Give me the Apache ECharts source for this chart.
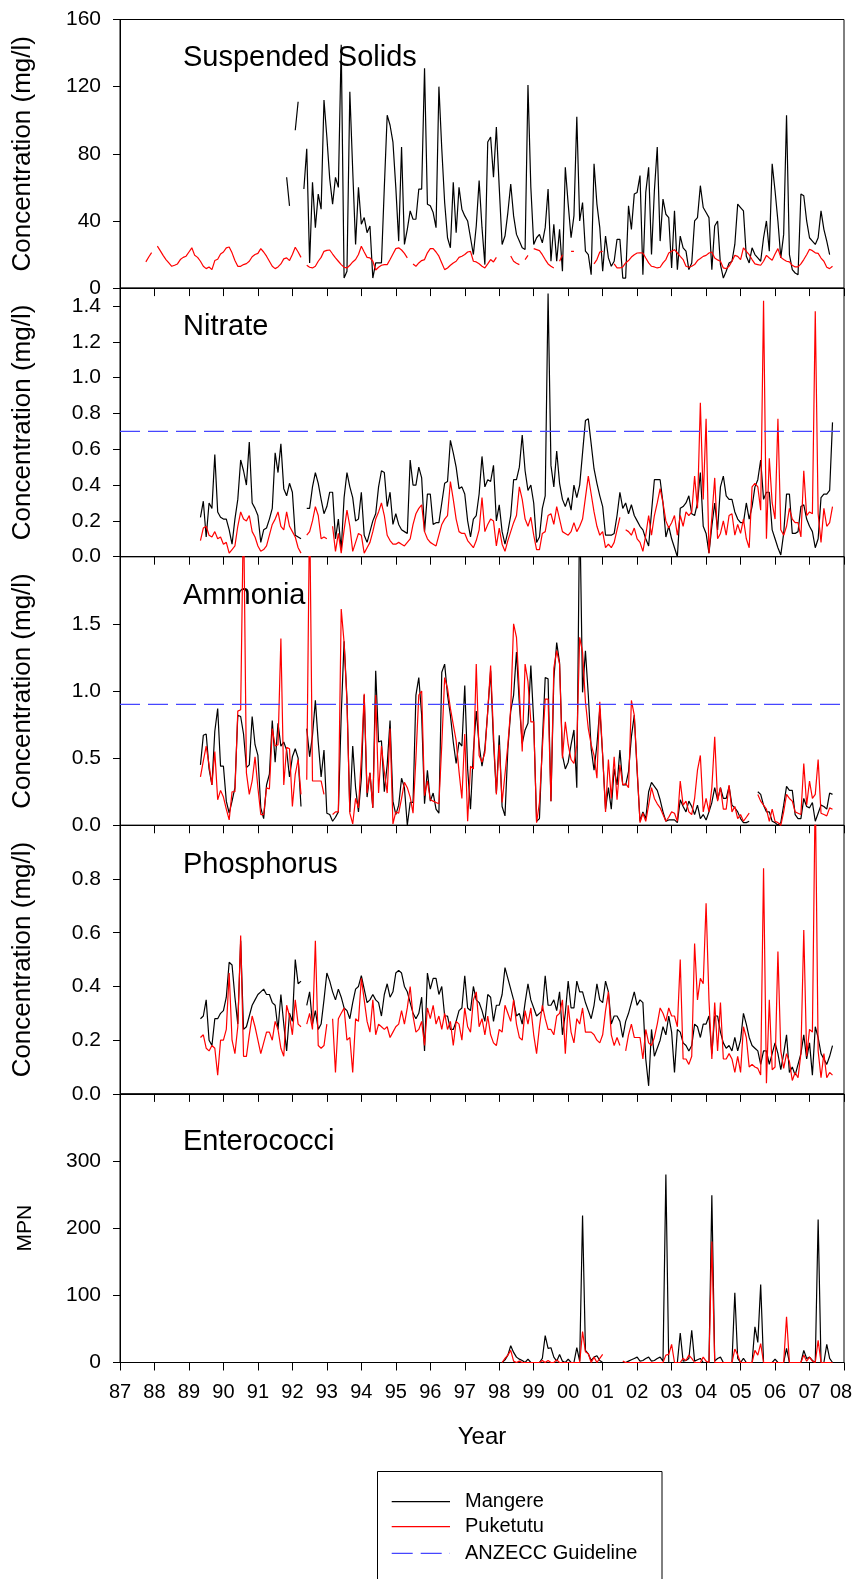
<!DOCTYPE html>
<html>
<head>
<meta charset="utf-8">
<title>Water quality: Mangere and Puketutu</title>
<script src="https://cdn.jsdelivr.net/npm/echarts@6/dist/echarts.min.js"></script>
<style>
  html, body { margin: 0; padding: 0; background: #fff; overflow: hidden; }
  #chart { width: 853px; height: 1579px; }
</style>
</head>
<body>
<div id="chart"></div>
<script>
// Missing samples are written as _ so the line breaks there.
const _ = null;

// Monthly samples; each row is one calendar year (Jan..Dec).
// Suspended solids (mg/l)
const ssPuketutuFrom = 1987;
const ssPuketutu = [
  _, _, _, _, _, _, _, _, _, 15.6, 18.5, 21.1,
  _, 25, 22.3, 19.5, 17, 15, 13, 13.6, 14.4, 17, 18.3, 19,
  21.5, 24, 19.5, 18.3, 16, 13, 11.6, 12.6, 11, 16.4, 17.2, 20.3,
  21.5, 24, 24.5, 21, 16.4, 13, 13, 14, 14.6, 16, 18.7, 20,
  20.7, 23.5, 21.5, 19, 16, 13, 11.6, 12.6, 14.4, 17.4, 18, 16.4,
  20, 24.3, 21.5, 18.3, _, 13.6, 12.4, 12, 13, 16, 18.3, 21.9,
  22.5, 22.7, 20.3, 18, 16, 14, 12.4, 12, 13.6, 15.6, 17, 20,
  24.9, 21.5, 18.3, 18, 16, 10.8, 12.4, 13.6, 14, 14, 17, 20.3,
  23.5, 24, 22.7, 20.7, 18, _, 14.4, 13, 15, 16.4, 17, 21,
  23.5, 23.5, 21.5, 19, 15, 11, 12, 13.6, 15, 16, 18.3, 19,
  20, 21.5, 21.9, 16, 15.6, 14.5, 13, 12, 14.4, 17, 15.6, 18.3,
  _, _, _, _, 19.1, 16, 14.8, 14, _, 17, 19.5, _,
  23.5, 22.9, 22.3, 19.9, 17, 14.4, 13, 12, _, 16, 19.9, _,
  _, 21.9, 21.9, _, _, _, _, _, _, 14.4, 17, 21.5,
  21.9, _, _, _, 14.4, 12, 12, 12.6, 15, 16.4, 18.5, 19.9,
  20.9, 21, 20.9, 17.9, 15, 13, 12.6, 12, 12.4, 15, 17, 20.9,
  21.9, 22.9, 20.9, 18.9, 17, 13, 12.4, 13, 14, 16.4, 17.6, 18.9,
  19.5, 20.9, 21.5, 17.9, 16.8, 16, 12, 11.6, 13, 16, 19.5, 18.9,
  17, 23.9, 21.9, 19.9, 17, 14.4, 14, 13.6, 16, 19.5, 17.9, 16.6,
  20.3, 23.5, 18.3, 17, 16, 15.6, 13.6, 12.6, 12.6, 14.4, 17, 19.9,
  23.1, 22.3, 21, 20.7, 17.9, 16, 12.4, 11.6, 13
];
const ssMangereFrom = 1991;
const ssMangere = [
  _, _, _, _, _, _, _, _, _, _, 66, 49,
  _, 94, 111, _, 59, 83, 15, 63, 36, 56, 47, 112,
  90, 65, 50, 66, 60, 145, 6, 10, 117, 70, 26, 60,
  38, 42, 33, 37, 6, 15, 15, 15, 60, 103, 97, 87,
  60, 28, 84, 26, 35, 46, 41, 41, 59, 59, 131, 50,
  49, 45, 36, 120, 83, 51, 30, 24, 63, 33, 60, 47,
  43, 40, 30, 20, 37, 64, 36, 14, 87, 90, 66, 96,
  60, 26, 31, 45, 62, 43, 32, 28, 24, 23, 121, 60,
  26, 30, 32, 27, 36, 59, 16, 38, 16, 35, 10, 72,
  50, 30, 43, 102, 40, 51, 22, 20, 8, 74, 50, 36,
  10, 31, 18, 13, 16, 29, 29, 6, 6, 49, 35, 56,
  57, 67, 8, 57, 72, 20, 58, 84, 28, 53, 44, 42,
  12, 46, 11, 31, 24, 22, 11, 15, 40, 42, 61, 48,
  45, 42, 11, 37, 40, 14, 6, 10, 15, 16, 26, 50,
  48, 46, 19, 15, 24, 20, 18, 16, 30, 40, 22, 74,
  58, 40, 18, 32, 103, 20, 11, 9, 8, 56, 55, 40,
  30, 28, 26, 30, 46, 35, 28, 20
];

// Nitrate (mg/l)
const nitrateFrom = 1989;
const nitrateMangere = [
  _, _, _, _, 0.22, 0.31, 0.11, 0.30, 0.27, 0.57, 0.25, 0.22,
  0.21, 0.21, 0.15, 0.07, 0.21, 0.32, 0.54, 0.48, 0.40, 0.64, 0.30, 0.27,
  0.23, 0.08, 0.15, 0.16, 0.21, 0.27, 0.58, 0.47, 0.63, 0.38, 0.34, 0.41,
  0.36, 0.12, 0.11, 0.10, _, 0.27, 0.27, 0.39, 0.47, 0.41, 0.32, 0.24,
  0.28, 0.36, 0.36, 0.10, 0.21, 0.04, 0.33, 0.47, 0.39, 0.33, 0.20, 0.21,
  0.36, 0.12, 0.08, 0.14, 0.20, 0.24, 0.39, 0.48, 0.47, 0.28, 0.36, 0.18,
  0.24, 0.18, 0.15, 0.14, 0.13, 0.54, 0.40, 0.40, 0.50, 0.44, 0.14, 0.35,
  0.35, 0.18, 0.19, 0.19, 0.30, 0.41, 0.42, 0.65, 0.58, 0.50, 0.38, 0.39,
  0.35, 0.20, 0.11, 0.21, 0.23, 0.35, 0.56, 0.39, 0.43, 0.42, 0.51, 0.20,
  0.29, 0.14, 0.07, 0.14, 0.23, 0.43, 0.43, 0.50, 0.68, 0.48, 0.37, 0.40,
  0.30, 0.08, 0.11, 0.27, 0.34, 1.47, 0.51, 0.39, 0.59, 0.41, 0.32, 0.28,
  0.33, 0.26, 0.40, 0.33, 0.40, 0.58, 0.76, 0.77, 0.63, 0.49, 0.41, 0.34,
  0.28, 0.12, 0.12, 0.12, 0.13, 0.23, 0.36, 0.27, 0.30, 0.24, 0.29, 0.23,
  0.20, 0.17, 0.15, 0.10, 0.06, 0.25, 0.43, 0.43, 0.43, 0.30, 0.11, 0.17,
  0.10, 0.05, 0.00, 0.27, 0.28, 0.30, 0.34, 0.24, 0.23, 0.30, 0.47, 0.17,
  0.13, 0.02, 0.17, 0.30, 0.15, 0.39, 0.45, 0.34, 0.32, 0.32, 0.25, 0.21,
  0.19, 0.19, 0.30, 0.21, 0.28, 0.39, 0.43, 0.54, 0.32, 0.36, 0.36, 0.15,
  0.10, 0.05, 0.01, 0.13, 0.35, 0.35, 0.13, 0.13, 0.14, 0.28, 0.29, 0.21,
  0.17, 0.14, 0.05, 0.10, 0.33, 0.35, 0.35, 0.37, 0.75
];
const nitratePuketutu = [
  _, _, _, _, 0.09, 0.16, 0.17, 0.12, 0.11, 0.14, 0.10, 0.11,
  0.07, 0.08, 0.02, 0.04, 0.06, 0.17, 0.25, 0.21, 0.20, 0.23, 0.14, 0.11,
  0.06, 0.03, 0.04, 0.06, 0.12, 0.18, 0.21, 0.25, 0.17, 0.15, 0.25, 0.17,
  0.14, 0.11, 0.05, 0.02, _, 0.12, 0.14, 0.20, 0.28, 0.23, 0.10, 0.11,
  0.10, _, 0.17, 0.03, 0.13, 0.02, 0.15, 0.26, 0.17, 0.03, 0.08, 0.13,
  0.12, 0.02, 0.05, 0.08, 0.14, 0.21, 0.25, 0.30, 0.23, 0.12, 0.09, 0.07,
  0.07, 0.08, 0.07, 0.06, 0.08, 0.10, 0.18, 0.24, 0.27, 0.29, 0.14, 0.10,
  0.08, 0.07, 0.06, 0.12, 0.18, 0.21, 0.23, 0.42, 0.32, 0.21, 0.14, 0.13,
  0.13, 0.09, 0.07, 0.05, 0.09, 0.15, 0.33, 0.14, 0.18, 0.21, 0.20, 0.06,
  0.16, 0.07, 0.03, 0.09, 0.14, 0.19, 0.23, 0.39, 0.32, 0.21, 0.17, 0.22,
  0.12, 0.04, 0.04, 0.13, 0.14, 0.23, 0.24, 0.18, 0.28, 0.21, 0.14, 0.13,
  0.12, 0.14, 0.19, 0.14, 0.17, 0.21, 0.33, 0.45, 0.35, 0.25, 0.17, 0.12,
  0.14, 0.05, 0.07, 0.05, 0.08, 0.15, 0.22, _, 0.15, 0.14, 0.12, 0.16,
  0.10, 0.08, 0.03, 0.12, 0.23, 0.12, 0.23, 0.30, 0.38, 0.30, 0.20, 0.16,
  0.19, 0.23, 0.12, 0.23, 0.17, 0.25, 0.23, 0.25, 0.45, 0.27, 0.86, 0.32,
  0.77, 0.02, 0.22, 0.44, 0.10, 0.13, 0.20, 0.12, 0.23, 0.24, 0.12, 0.18,
  0.13, 0.21, 0.10, 0.05, 0.39, 0.41, 0.39, 0.26, 1.43, 0.10, 0.55, 0.30,
  0.21, 0.77, 0.15, 0.12, 0.17, 0.27, 0.21, 0.19, 0.19, 0.11, 0.48, 0.23,
  0.25, 0.24, 1.37, 0.24, 0.08, 0.27, 0.17, 0.19, 0.28
];

// Ammonia (mg/l)
const ammoniaFrom = 1989;
const ammoniaMangere = [
  _, _, _, _, 0.45, 0.67, 0.68, 0.42, 0.30, 0.70, 0.87, 0.44,
  0.44, 0.18, 0.09, 0.18, 0.28, 0.82, 0.81, 0.68, 0.43, 0.45, 0.81, 0.60,
  0.52, 0.13, 0.05, 0.30, 0.38, 0.78, 0.47, 0.76, 0.59, 0.62, 0.56, 0.36,
  0.51, 0.57, 0.50, 0.14, _, 0.72, 0.51, 0.67, 0.93, 0.62, 0.36, 0.56,
  0.09, 0.08, 0.03, 0.06, 0.10, 0.82, 1.37, 0.94, 0.10, 0.59, 0.28, 0.10,
  0.35, 0.97, 0.21, 0.39, 0.13, 1.15, 0.62, 0.63, 0.25, 0.45, 0.78, 0.18,
  0.08, 0.15, 0.35, 0.28, 0.00, 0.17, 0.17, 0.97, 1.10, 0.82, 0.16, 0.41,
  0.18, 0.24, 0.12, 0.09, 1.14, 1.20, 0.97, 0.82, 0.62, 0.46, 0.62, 0.59,
  1.04, 0.42, 0.12, 0.55, 0.85, 0.60, 0.44, 0.57, 0.85, 1.15, 0.62, 0.24,
  0.67, 0.14, 0.07, 0.57, 0.85, 0.97, 1.29, 0.90, 0.61, 0.71, 0.76, 1.19,
  0.77, 0.03, 0.05, 0.62, 1.10, 1.09, 0.18, 1.09, 1.36, 1.21, 0.52, 0.42,
  0.47, 0.60, 0.71, 0.28, 2.40, 0.99, 1.30, 0.97, 0.57, 0.41, 0.60, 0.87,
  0.52, 0.12, 0.28, 0.12, 0.42, 0.30, 0.56, 0.30, 0.30, 0.40, 0.66, 0.82,
  0.40, 0.03, 0.10, 0.05, 0.25, 0.32, 0.29, 0.26, 0.19, 0.10, 0.03, 0.04,
  0.04, 0.04, 0.02, 0.19, 0.14, 0.10, 0.18, 0.14, 0.08, 0.15, 0.05, 0.08,
  0.04, 0.10, 0.17, 0.28, 0.19, 0.28, 0.20, 0.20, 0.29, 0.15, 0.13, 0.10,
  0.05, 0.02, 0.02, 0.03, _, _, 0.25, 0.23, 0.15, 0.10, 0.10, 0.03,
  0.02, 0.00, 0.02, 0.15, 0.29, 0.26, 0.26, 0.08, 0.05, 0.05, 0.20, 0.14,
  0.13, 0.17, 0.03, 0.09, 0.15, 0.14, 0.12, 0.24, 0.23
];
const ammoniaPuketutu = [
  _, _, _, _, 0.36, 0.48, 0.59, 0.45, 0.30, 0.55, 0.19, 0.26,
  0.21, 0.12, 0.04, 0.25, 0.25, 0.85, 0.86, 2.40, 0.39, 0.23, 0.33, 0.51,
  0.28, 0.08, 0.08, 0.28, 0.27, 0.72, 0.59, 0.60, 1.39, 0.30, 0.58, 0.57,
  0.14, 0.38, 0.49, 0.23, _, 0.34, 2.40, 0.33, 0.33, 0.33, 0.33, 0.23,
  _, _, 0.08, 0.10, 0.10, 1.61, 1.36, 0.92, 0.09, 0.01, 0.20, 0.13,
  0.50, 0.98, 0.24, 0.39, 0.13, 0.97, 0.24, 0.59, 0.40, 0.24, 0.72, 0.01,
  0.10, 0.09, 0.20, 0.32, 0.28, 0.21, 0.09, 0.50, 0.97, 1.00, 0.22, 0.33,
  0.19, 0.18, 0.17, 0.16, 0.60, 1.10, 1.02, 0.87, 0.75, 0.63, 0.40, 0.20,
  0.68, 0.03, 0.44, 0.42, 1.20, 0.52, 0.47, 0.54, 0.85, 1.19, 0.68, 0.23,
  0.60, 0.17, 0.38, 0.60, 0.87, 1.50, 1.40, 0.99, 0.55, 1.20, 1.07, 0.77,
  0.77, 0.02, 0.17, 0.57, 0.94, 0.94, 0.18, 1.17, 1.30, 1.20, 0.50, 0.77,
  0.60, 0.49, 0.46, 0.60, 1.40, 1.29, 0.92, 0.72, 0.60, 0.52, 0.35, 0.92,
  0.52, 0.10, 0.49, 0.20, 0.51, 0.19, 0.45, 0.30, 0.31, 0.28, 0.93, 0.82,
  0.42, 0.02, 0.09, 0.03, 0.15, 0.28, 0.20, 0.16, 0.13, 0.08, 0.03, 0.06,
  0.10, 0.09, 0.03, 0.33, 0.15, 0.18, 0.10, 0.08, 0.20, 0.41, 0.52, 0.10,
  0.20, 0.10, 0.28, 0.66, 0.18, 0.28, 0.12, 0.12, 0.30, 0.10, 0.14, 0.05,
  0.08, 0.03, 0.06, 0.09, _, _, 0.23, 0.18, 0.15, 0.12, 0.03, 0.12,
  0.03, 0.02, 0.00, 0.10, 0.23, 0.20, 0.18, 0.10, 0.09, 0.08, 0.46, 0.15,
  0.33, 0.20, 0.23, 0.49, 0.09, 0.08, 0.07, 0.13, 0.12
];

// Total phosphorus (mg/l)
const phosphorusFrom = 1989;
const phosphorusMangere = [
  _, _, _, _, 0.28, 0.29, 0.35, 0.20, 0.18, 0.28, 0.28, 0.30,
  0.31, 0.36, 0.49, 0.48, 0.36, 0.26, 0.57, 0.24, 0.25, 0.29, 0.33, 0.35,
  0.37, 0.38, 0.39, 0.37, 0.37, 0.34, 0.33, 0.24, 0.37, 0.26, 0.16, 0.30,
  0.27, 0.50, 0.41, 0.42, _, 0.33, 0.38, 0.26, 0.31, 0.24, 0.26, 0.35,
  0.45, 0.42, 0.38, 0.35, 0.39, 0.36, 0.32, 0.31, 0.28, 0.34, 0.39, 0.40,
  0.44, 0.39, 0.34, 0.35, 0.37, 0.35, 0.34, 0.29, 0.37, 0.41, 0.36, 0.38,
  0.45, 0.46, 0.45, 0.40, 0.38, 0.34, 0.30, 0.28, 0.30, 0.36, 0.16, 0.45,
  0.39, 0.43, 0.43, 0.37, 0.40, 0.29, 0.29, 0.24, 0.24, 0.27, 0.31, 0.32,
  0.44, 0.32, 0.31, 0.40, 0.35, 0.34, 0.31, 0.27, 0.37, 0.36, 0.27, 0.33,
  0.33, 0.37, 0.47, 0.43, 0.39, 0.35, 0.29, 0.30, 0.26, 0.34, 0.41, 0.35,
  0.32, 0.29, 0.30, 0.31, 0.44, 0.33, 0.33, 0.35, 0.31, 0.38, 0.22, 0.30,
  0.42, 0.32, 0.32, 0.42, 0.38, 0.38, 0.34, 0.31, 0.28, 0.33, 0.41, 0.35,
  0.34, 0.42, 0.38, 0.26, 0.29, 0.29, 0.27, 0.21, 0.27, 0.30, 0.34, 0.38,
  0.33, 0.35, 0.34, 0.13, 0.03, 0.24, 0.14, 0.17, 0.20, 0.25, 0.22, 0.29,
  0.23, 0.08, 0.24, 0.23, 0.19, 0.18, 0.16, 0.18, 0.26, 0.25, 0.21, 0.26,
  0.26, 0.29, 0.15, 0.29, 0.29, 0.23, 0.19, 0.17, 0.18, 0.16, 0.21, 0.16,
  0.20, 0.30, 0.26, 0.21, 0.18, 0.17, 0.16, 0.11, 0.16, 0.16, 0.11, 0.15,
  0.19, 0.15, 0.09, 0.15, 0.22, 0.08, 0.10, 0.07, 0.11, 0.15, 0.22, 0.13,
  0.19, 0.07, 0.25, 0.21, 0.15, 0.13, 0.11, 0.14, 0.18
];
const phosphorusPuketutu = [
  _, _, _, _, 0.21, 0.22, 0.17, 0.16, 0.18, 0.17, 0.07, 0.20,
  0.20, 0.24, 0.45, 0.20, 0.15, 0.25, 0.59, 0.14, 0.14, 0.22, 0.29, 0.25,
  0.20, 0.15, 0.19, 0.23, 0.23, 0.20, 0.27, 0.24, 0.17, 0.14, 0.33, 0.29,
  0.22, 0.35, 0.26, 0.25, _, 0.26, 0.30, 0.24, 0.57, 0.18, 0.17, 0.18,
  0.26, _, 0.28, 0.08, 0.28, 0.30, 0.32, 0.20, 0.21, 0.08, 0.28, 0.27,
  0.43, 0.35, 0.27, 0.23, 0.35, 0.22, 0.26, 0.25, 0.24, 0.25, 0.21, 0.23,
  0.25, 0.26, 0.31, 0.26, 0.32, 0.40, 0.29, 0.23, 0.24, 0.27, 0.18, 0.32,
  0.28, 0.33, 0.26, 0.29, 0.24, 0.30, 0.24, 0.27, 0.18, 0.27, 0.26, 0.20,
  0.32, 0.25, 0.23, 0.35, 0.38, 0.25, 0.28, 0.22, 0.29, 0.22, 0.19, 0.18,
  0.24, 0.23, 0.33, 0.30, 0.27, 0.35, 0.26, 0.21, 0.20, 0.31, 0.26, 0.32,
  0.22, 0.15, 0.25, 0.33, 0.28, 0.24, 0.24, 0.22, 0.29, 0.30, 0.35, 0.15,
  0.33, 0.23, 0.19, 0.28, 0.26, 0.32, 0.23, 0.23, 0.23, 0.22, 0.20, 0.19,
  0.22, 0.31, 0.38, 0.22, 0.18, 0.21, 0.18, _, 0.16, 0.22, 0.26, 0.21,
  0.21, 0.21, 0.13, 0.24, 0.19, 0.18, 0.21, 0.26, 0.32, 0.30, 0.27, 0.32,
  0.29, 0.29, 0.25, 0.50, 0.13, 0.13, 0.11, 0.14, 0.56, 0.35, 0.43, 0.41,
  0.71, 0.35, 0.13, 0.34, 0.16, 0.34, 0.13, 0.13, 0.15, 0.13, 0.08, 0.14,
  0.08, 0.25, 0.21, 0.10, 0.11, 0.10, 0.095, 0.07, 0.84, 0.04, 0.35, 0.09,
  0.10, 0.53, 0.16, 0.095, 0.15, 0.12, 0.05, 0.08, 0.06, 0.15, 0.61, 0.14,
  0.24, 0.23, 1.15, 0.16, 0.06, 0.15, 0.06, 0.08, 0.07
];

// Enterococci (MPN)
const enteroFrom = 1998;
const enteroMangere = [
  _, 0, 4, 11, 25, 15, 8, 5, 3, 0, 5, 0,
  0, 0, 0, 6, 40, 21, 22, 8, 2, 12, 2, 0,
  5, 0, 0, 22, 2, 219, 18, 13, 3, 8, 10, 3,
  0, _, _, _, _, _, 0, 0, 0, 2, 4, 6,
  8, 2, 3, 6, 8, 2, 3, 6, 8, 2, 280, 0,
  0, 0, 0, 44, 2, 3, 6, 48, 2, 4, 6, 0,
  0, 0, 249, 2, 6, 8, 0, 0, 0, 0, 104, 6,
  0, 6, 0, 0, 0, 53, 30, 116, 0, 0, 0, 0,
  5, 0, 0, 0, 21, 0, 0, 0, 0, 0, 18, 6,
  8, 3, 0, 213, 0, 0, 27, 6, 0
];
const enteroPuketutu = [
  _, 0, 6, 11, 18, 2, 0, 2, 0, 0, 0, 0,
  0, 0, 0, 3, 0, 3, 0, 0, 4, 0, 0, 0,
  0, 0, 0, 0, 0, 46, 16, 13, 0, 8, 0, 6,
  12, _, _, _, _, _, _, 2, 0, 0, 0, 0,
  0, 0, 0, 0, 0, 0, 0, 0, 0, 0, 11, 12,
  27, 0, 0, 0, 6, 3, 11, 6, 0, 0, 0, 8,
  2, 0, 180, 0, 0, 0, 0, 0, 0, 0, 20, 11,
  0, 0, 0, 0, 0, 18, 11, 28, 0, 0, 0, 0,
  0, 0, 0, 0, 68, 0, 0, 0, 0, 0, 11, 2,
  8, 2, 0, 33, 0, 0, 0, 0, 0
];

// ANZECC guideline levels (mg/l)
const nitrateGuideline = 0.7;
const ammoniaGuideline = 0.9;

// Panel set-up
const panelTitles = ['Suspended Solids', 'Nitrate', 'Ammonia', 'Phosphorus', 'Enterococci'];
const axisNames = ['Concentration (mg/l)', 'Concentration (mg/l)', 'Concentration (mg/l)',
                   'Concentration (mg/l)', 'MPN'];
const yMax = [160, 1.5, 2, 1, 400];
const yStep = [40, 0.2, 0.5, 0.2, 100];
const yDecimals = [0, 1, 1, 1, 0];
const xFirstYear = 1987, xLastYear = 2008;
const legendNames = ['Mangere', 'Puketutu', 'ANZECC Guideline'];

// Turn a monthly value list into [decimal year, value] pairs.
function monthly(fromYear, values) {
  return values.map((v, i) => [fromYear + i / 12, v]);
}

const FONT = "'Liberation Sans', Arial, Helvetica, sans-serif";
const BLACK = '#000000', RED = '#ff0000', BLUE = '#4646ff';
const GRID_LEFT = 120, GRID_RIGHT = 9, GRID_TOP = 19.5, GRID_H = 268.6;
const TITLE_Y = [58.3, 326.8, 596, 864.8, 1142];

const panelData = [
  [monthly(ssMangereFrom, ssMangere), monthly(ssPuketutuFrom, ssPuketutu), null],
  [monthly(nitrateFrom, nitrateMangere), monthly(nitrateFrom, nitratePuketutu), nitrateGuideline],
  [monthly(ammoniaFrom, ammoniaMangere), monthly(ammoniaFrom, ammoniaPuketutu), ammoniaGuideline],
  [monthly(phosphorusFrom, phosphorusMangere), monthly(phosphorusFrom, phosphorusPuketutu), null],
  [monthly(enteroFrom, enteroMangere), monthly(enteroFrom, enteroPuketutu), null]
];

// Two-digit year labels; the last one is nudged left so it stays on the canvas.
function yearLabel(v) {
  const s = String(Math.round(v) % 100).padStart(2, '0');
  return Math.round(v) >= xLastYear ? '{edge|' + s + '}' : s;
}

const grids = [], xAxes = [], yAxes = [], series = [], graphics = [];

panelTitles.forEach((title, i) => {
  const last = i === panelTitles.length - 1;
  grids.push({
    left: GRID_LEFT, right: GRID_RIGHT,
    top: GRID_TOP + i * GRID_H, height: GRID_H,
    outerBoundsMode: 'none', containLabel: false,
    show: true, borderColor: BLACK, borderWidth: 1, backgroundColor: 'transparent'
  });
  xAxes.push({
    type: 'value', gridIndex: i, min: xFirstYear, max: xLastYear, interval: 1,
    axisLine: { show: true, onZero: false, lineStyle: { color: BLACK, width: 1 } },
    axisTick: { show: true, length: 8, lineStyle: { color: BLACK, width: 1 } },
    axisLabel: {
      show: last, color: BLACK, fontSize: 20, fontFamily: FONT, margin: 20,
      formatter: yearLabel,
      rich: { edge: { color: BLACK, fontSize: 20, fontFamily: FONT, padding: [0, 6, 0, 0] } }
    },
    splitLine: { show: false },
    name: last ? 'Year' : '', nameLocation: 'middle', nameGap: 63,
    nameTextStyle: { color: BLACK, fontSize: 24, fontFamily: FONT }
  });
  yAxes.push({
    type: 'value', gridIndex: i, min: 0, max: yMax[i], interval: yStep[i],
    axisLine: { show: true, lineStyle: { color: BLACK, width: 1 } },
    axisTick: { show: true, length: 7, lineStyle: { color: BLACK, width: 1 } },
    axisLabel: {
      color: BLACK, fontSize: 21, fontFamily: FONT, margin: 19,
      showMaxLabel: i === 0, showMinLabel: true,
      formatter: v => v.toFixed(yDecimals[i])
    },
    splitLine: { show: false },
    name: axisNames[i], nameLocation: 'middle', nameGap: 84,
    nameTextStyle: { color: BLACK, fontSize: last ? 21 : 26, fontFamily: FONT }
  });

  const [mangere, puketutu, guide] = panelData[i];
  const common = {
    type: 'line', xAxisIndex: i, yAxisIndex: i, showSymbol: false, symbol: 'none',
    connectNulls: false, clip: true, animation: false, silent: true
  };
  series.push(Object.assign({}, common, {
    name: legendNames[0], data: mangere, z: 2, color: BLACK,
    lineStyle: { color: BLACK, width: 1.2 }
  }));
  series.push(Object.assign({}, common, {
    name: legendNames[1], data: puketutu, z: 3, color: RED,
    lineStyle: { color: RED, width: 1.2 }
  }));
  if (guide !== null) {
    series.push(Object.assign({}, common, {
      name: legendNames[2], data: [[xFirstYear, guide], [xLastYear, guide]], z: 4, color: BLUE,
      lineStyle: { color: BLUE, width: 1.3, type: [20, 8] }
    }));
  }

  graphics.push({
    type: 'text', x: 183, y: TITLE_Y[i], silent: true,
    style: { text: title, fill: BLACK, fontSize: 29, fontFamily: FONT, verticalAlign: 'middle', align: 'left' }
  });
});

// Legend box below the bottom panel
const LEG_X = 377.5, LEG_Y = 1471.5, LEG_W = 284.5;
const legendRows = [1501.7, 1526.7, 1553.3];
const legendStyles = [
  { stroke: BLACK, lineWidth: 1.2 },
  { stroke: RED, lineWidth: 1.2 },
  { stroke: BLUE, lineWidth: 1.3, lineDash: [21, 8] }
];
graphics.push({
  type: 'rect', silent: true,
  shape: { x: LEG_X, y: LEG_Y, width: LEG_W, height: 130 },
  style: { fill: 'none', stroke: BLACK, lineWidth: 1 }
});
legendNames.forEach((name, k) => {
  graphics.push({
    type: 'line', silent: true,
    shape: { x1: 391.7, y1: legendRows[k], x2: 450, y2: legendRows[k] },
    style: legendStyles[k]
  });
  graphics.push({
    type: 'text', silent: true, x: 465, y: legendRows[k],
    style: { text: name, fill: BLACK, fontSize: 20, fontFamily: FONT, verticalAlign: 'middle', align: 'left' }
  });
});

const chart = echarts.init(document.getElementById('chart'), null, { renderer: 'canvas' });
chart.setOption({
  backgroundColor: '#ffffff',
  animation: false,
  textStyle: { fontFamily: FONT },
  grid: grids,
  xAxis: xAxes,
  yAxis: yAxes,
  series: series,
  graphic: graphics
});
</script>
</body>
</html>
